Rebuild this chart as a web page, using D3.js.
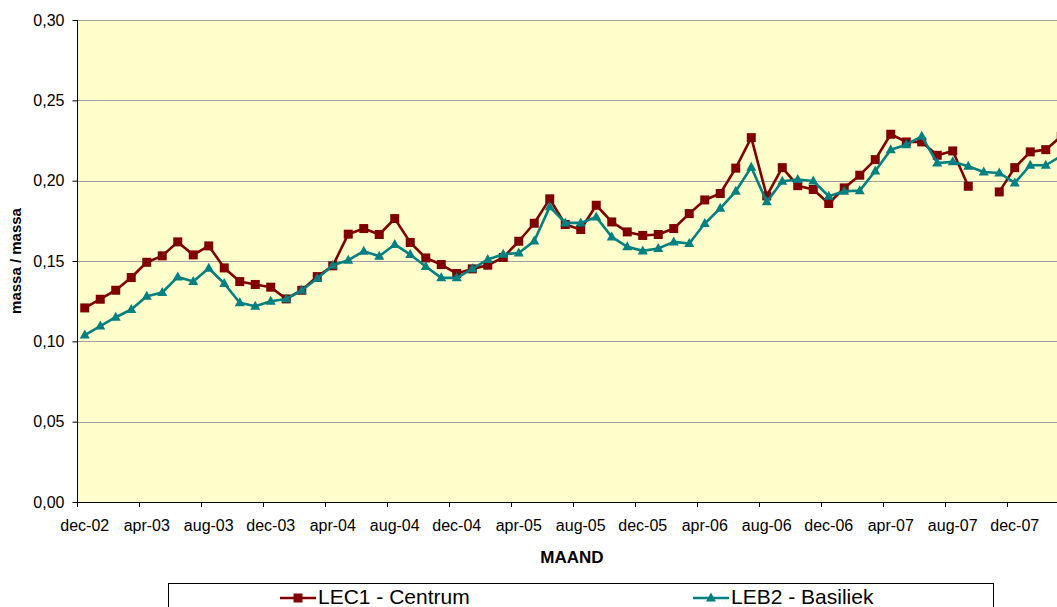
<!DOCTYPE html>
<html>
<head>
<meta charset="utf-8">
<script src="https://cdn.jsdelivr.net/npm/d3@7/dist/d3.min.js"></script>
<style>
  html, body { margin: 0; padding: 0; background: #ffffff; }
  svg { display: block; font-family: "Liberation Sans", Arial, sans-serif; }
</style>
</head>
<body>
<svg id="chart" width="1057" height="607"></svg>
<script>
const months = ["dec-02",
  "jan-03","feb-03","mrt-03","apr-03","mei-03","jun-03","jul-03","aug-03","sep-03","okt-03","nov-03","dec-03",
  "jan-04","feb-04","mrt-04","apr-04","mei-04","jun-04","jul-04","aug-04","sep-04","okt-04","nov-04","dec-04",
  "jan-05","feb-05","mrt-05","apr-05","mei-05","jun-05","jul-05","aug-05","sep-05","okt-05","nov-05","dec-05",
  "jan-06","feb-06","mrt-06","apr-06","mei-06","jun-06","jul-06","aug-06","sep-06","okt-06","nov-06","dec-06",
  "jan-07","feb-07","mrt-07","apr-07","mei-07","jun-07","jul-07","aug-07","sep-07","okt-07","nov-07","dec-07",
  "jan-08","feb-08","mrt-08"];

const lec1 = [0.1208,0.1262,0.1318,0.1397,0.1492,0.1532,0.1619,0.1538,0.1594,0.1457,0.1372,0.1354,0.1337,
  0.1264,0.1318,0.1403,0.1470,0.1667,0.1702,0.1665,0.1764,0.1615,0.1519,0.1478,0.1422,
  0.1451,0.1474,0.1522,0.1623,0.1735,0.1887,0.1727,0.1696,0.1847,0.1743,0.1681,0.1659,
  0.1665,0.1702,0.1795,0.1880,0.1920,0.2078,0.2268,0.1905,0.2081,0.1969,0.1945,0.1858,
  0.1955,0.2034,0.2131,0.2289,0.2241,0.2241,0.2158,0.2185,0.1965,null,0.1930,0.2081,
  0.2179,0.2193,0.2276];

const leb2 = [0.1039,0.1095,0.1150,0.1198,0.1281,0.1304,0.1401,0.1372,0.1455,0.1360,0.1240,0.1219,0.1250,
  0.1264,0.1318,0.1391,0.1474,0.1505,0.1561,0.1530,0.1603,0.1540,0.1466,0.1395,0.1395,
  0.1451,0.1509,0.1542,0.1550,0.1624,0.1837,0.1737,0.1737,0.1774,0.1650,0.1588,0.1563,
  0.1578,0.1619,0.1609,0.1733,0.1828,0.1934,0.2083,0.1868,0.1996,0.2007,0.1998,0.1903,
  0.1934,0.1938,0.2060,0.2193,0.2224,0.2276,0.2110,0.2117,0.2090,0.2054,0.2048,0.1986,
  0.2096,0.2096,0.2154];

const yTicks = [0, 0.05, 0.10, 0.15, 0.20, 0.25, 0.30];
const seriesNames = ["LEC1 - Centrum", "LEB2 - Basiliek"];
const seriesColors = ["#800000", "#008080"];

(function () {
const W = 1057, H = 607;
const plotLeft = 77, plotTop = 20, plotBottom = 502;
const step = 15.5;

const svg = d3.select("#chart");

const x = d3.scaleBand().domain(months).range([plotLeft, plotLeft + months.length * step]).padding(0);
const y = d3.scaleLinear().domain([0, 0.3]).range([plotBottom, plotTop]);
const cx = d => x(d) + x.bandwidth() / 2;

// plot area
svg.append("rect").attr("x", plotLeft).attr("y", plotTop)
  .attr("width", W - plotLeft + 20).attr("height", plotBottom - plotTop)
  .attr("fill", "#FFFFCC");

// grid lines
svg.append("g").selectAll("line").data(yTicks.filter(d => d > 0)).join("line")
  .attr("x1", plotLeft).attr("x2", W + 20)
  .attr("y1", d => Math.round(y(d)) + 0.5).attr("y2", d => Math.round(y(d)) + 0.5)
  .attr("stroke", "#A0A0A0").attr("stroke-width", 1);

// y axis
const yAxis = svg.append("g").attr("transform", `translate(${plotLeft + 0.5},0)`)
  .call(d3.axisLeft(y).tickValues(yTicks).tickSize(5).tickPadding(8)
    .tickFormat(d => d3.format(".2f")(d).replace(".", ",")));
yAxis.select(".domain").attr("stroke", "#000").attr("d", `M0,${plotTop}V${plotBottom}`);
yAxis.selectAll(".tick line").attr("stroke", "#000");
yAxis.selectAll("text").attr("font-size", 16).attr("fill", "#000")
  .attr("font-family", "Liberation Sans, Arial, sans-serif");

// x axis labels (every 4th month)
const labelMonths = months.filter((m, i) => i % 4 === 0 && i <= 60);
const xAxis = svg.append("g").attr("transform", `translate(0,${plotBottom})`)
  .call(d3.axisBottom(x).tickValues(labelMonths).tickSize(0));
xAxis.select(".domain").remove();
xAxis.selectAll("text").attr("font-size", 16).attr("fill", "#000")
  .attr("y", 29).attr("dy", 0)
  .attr("font-family", "Liberation Sans, Arial, sans-serif");

// x tick marks between categories
svg.append("g").selectAll("line").data(labelMonths).join("line")
  .attr("x1", d => Math.round(x(d)) + 0.5).attr("x2", d => Math.round(x(d)) + 0.5)
  .attr("y1", plotBottom).attr("y2", plotBottom + 5)
  .attr("stroke", "#000");
svg.append("line").attr("x1", plotLeft).attr("x2", W + 20)
  .attr("y1", plotBottom + 0.5).attr("y2", plotBottom + 0.5).attr("stroke", "#000");

// axis titles
svg.append("text").attr("x", 572).attr("y", 563).attr("text-anchor", "middle")
  .attr("font-size", 17).attr("font-weight", "bold").text("MAAND");
svg.append("text").attr("transform", "translate(21,261) rotate(-90)")
  .attr("text-anchor", "middle").attr("font-size", 15).attr("font-weight", "bold")
  .text("massa / massa");

// series
const allSeries = [lec1, leb2];
svg.append("clipPath").attr("id", "clip").append("rect")
  .attr("x", 0).attr("y", 0).attr("width", W).attr("height", H);

const line = d3.line()
  .defined(d => d.v !== null)
  .x(d => cx(d.m)).y(d => y(d.v));

allSeries.forEach((vals, si) => {
  const data = months.map((m, i) => ({ m, v: vals[i] }));
  const g = svg.append("g").attr("clip-path", "url(#clip)");
  g.append("path").datum(data).attr("d", line)
    .attr("fill", "none").attr("stroke", seriesColors[si]).attr("stroke-width", 2.6)
    .attr("stroke-linejoin", "round");
  const pts = data.filter(d => d.v !== null);
  if (si === 0) {
    g.selectAll("rect.mk").data(pts).join("rect").attr("class", "mk")
      .attr("x", d => cx(d.m) - 4.5).attr("y", d => y(d.v) - 4.5)
      .attr("width", 9).attr("height", 9).attr("fill", seriesColors[si]);
  } else {
    g.selectAll("path.mk").data(pts).join("path").attr("class", "mk")
      .attr("d", d => {
        const px = cx(d.m), py = y(d.v);
        return `M${px},${py - 5.5}L${px + 5},${py + 3.5}L${px - 5},${py + 3.5}Z`;
      })
      .attr("fill", seriesColors[si]);
  }
});

// legend
svg.append("rect").attr("x", 168.5).attr("y", 583.5).attr("width", 825).attr("height", 40)
  .attr("fill", "#fff").attr("stroke", "#000").attr("stroke-width", 1);
const legendX = [280, 693];
seriesNames.forEach((name, i) => {
  const lx = legendX[i], ly = 598;
  svg.append("line").attr("x1", lx).attr("x2", lx + 36).attr("y1", ly).attr("y2", ly)
    .attr("stroke", seriesColors[i]).attr("stroke-width", 2.6);
  if (i === 0) {
    svg.append("rect").attr("x", lx + 18 - 4.5).attr("y", ly - 4.5).attr("width", 9).attr("height", 9)
      .attr("fill", seriesColors[i]);
  } else {
    const px = lx + 18, py = ly;
    svg.append("path").attr("d", `M${px},${py - 5.5}L${px + 5},${py + 3.5}L${px - 5},${py + 3.5}Z`)
      .attr("fill", seriesColors[i]);
  }
  svg.append("text").attr("x", lx + 38).attr("y", 604).attr("font-size", 21)
    .attr("fill", "#000").text(name);
});
})();
</script>
</body>
</html>
